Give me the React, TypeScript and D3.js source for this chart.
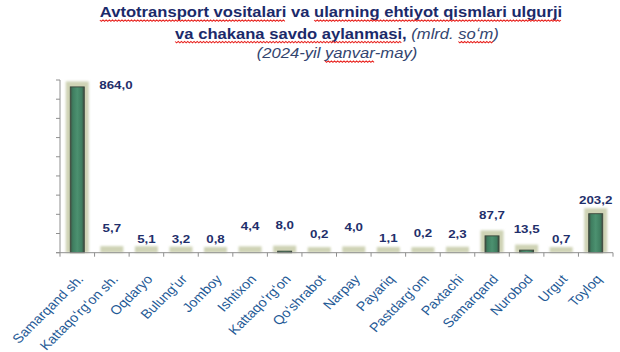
import React, { useEffect, useRef } from 'react';
import * as d3 from 'd3';

const categories = [
  'Samarqand sh.',
  'Kattaqoʻrgʻon sh.',
  'Oqdaryo',
  'Bulungʻur',
  'Jomboy',
  'Ishtixon',
  'Kattaqoʻrgʻon',
  'Qoʻshrabot',
  'Narpay',
  'Payariq',
  'Pastdargʻom',
  'Paxtachi',
  'Samarqand',
  'Nurobod',
  'Urgut',
  'Toyloq',
];
const values = [864.0, 5.7, 5.1, 3.2, 0.8, 4.4, 8.0, 0.2, 4.0, 1.1, 0.2, 2.3, 87.7, 13.5, 0.7, 203.2];
const yTicks = [0, 100, 200, 300, 400, 500, 600, 700, 800, 900];
// hand placed value labels in the original: lift above bar top, px
const labelLift = [-2.5, 20, 9, 9.5, 10, 21.5, 22.5, 15, 20.5, 10, 16, 14, 16.5, 17.5, 10, 10];

const FONT = "'Liberation Sans', Arial, sans-serif";
const W = 620;
const H = 352;
const margin = { top: 80, right: 7, bottom: 99.3, left: 60 };
// the source picture is a little wider than tall, text included
const SX = 1.13;

const fmt = (v: number) => v.toFixed(1).replace('.', ',');

const App = () => {
  const ref = useRef<SVGSVGElement>(null);

  useEffect(() => {
    if (!ref.current) return;
    const svg = d3.select(ref.current);
    svg.selectAll('*').remove();

    const x = d3
      .scaleBand<string>()
      .domain(categories)
      .range([margin.left, W - margin.right]);
    const y = d3
      .scaleLinear()
      .domain([0, 900])
      .range([H - margin.bottom, margin.top]);
    const base = y(0);

    const defs = svg.append('defs');
    const grad = defs
      .append('linearGradient')
      .attr('id', 'barFill')
      .attr('x1', 0)
      .attr('x2', 1)
      .attr('y1', 0)
      .attr('y2', 0);
    grad.append('stop').attr('offset', '0%').attr('stop-color', '#3e4f42');
    grad.append('stop').attr('offset', '18%').attr('stop-color', '#3f7e60');
    grad.append('stop').attr('offset', '50%').attr('stop-color', '#4c9170');
    grad.append('stop').attr('offset', '82%').attr('stop-color', '#3f7e60');
    grad.append('stop').attr('offset', '100%').attr('stop-color', '#3c4a3e');
    defs
      .append('filter')
      .attr('id', 'soft')
      .attr('x', '-30%')
      .attr('y', '-30%')
      .attr('width', '160%')
      .attr('height', '160%')
      .append('feGaussianBlur')
      .attr('stdDeviation', 0.9);

    // title
    const title = svg.append('g').attr('font-family', FONT);
    const line = (cx: number, yy: number, parts: Array<[string, boolean, boolean, boolean]>) => {
      const g = title.append('g').attr('transform', `translate(${cx},${yy}) scale(${SX},1)`);
      const t = g.append('text').attr('text-anchor', 'middle').attr('font-size', 14.7);
      parts.forEach(([s, bold, italic, wavy]) => {
        t.append('tspan')
          .text(s)
          .attr('font-weight', bold ? 'bold' : 'normal')
          .attr('font-style', italic ? 'italic' : 'normal')
          .attr('fill', bold ? '#1b2a6a' : '#33456f')
          .classed('wavy', wavy);
      });
      t.selectAll<SVGTSpanElement, unknown>('tspan.wavy').each(function () {
        const x0 = this.getStartPositionOfChar(0).x;
        const len = this.getComputedTextLength();
        const pts: Array<[number, number]> = [];
        for (let px = x0, k = 0; px <= x0 + len; px += 1.4, k++) {
          pts.push([px, 3 + (k % 2 === 0 ? 0 : 1.4)]);
        }
        g.append('path')
          .attr('d', d3.line()(pts))
          .attr('fill', 'none')
          .attr('stroke', '#e8231f')
          .attr('stroke-width', 0.9);
      });
    };
    line(331, 17, [
      ['Avtotransport vositalari', true, false, true],
      [' va ', true, false, false],
      ['ularning ehtiyot qismlari ulgurji', true, false, true],
    ]);
    line(337, 38.5, [
      ['va chakana savdo aylanmasi', true, false, true],
      [', ', true, false, false],
      ['(mlrd. ', false, true, false],
      ['soʻm', false, true, true],
      [')', false, true, false],
    ]);
    line(337, 58, [
      ['(2024-yil ', false, true, false],
      ['yanvar', false, true, true],
      ['-may)', false, true, false],
    ]);

    // axes
    const axisColor = '#8f8f8f';
    const gy = svg.append('g').attr('stroke', axisColor).attr('stroke-width', 1);
    gy.append('line')
      .attr('x1', margin.left)
      .attr('x2', margin.left)
      .attr('y1', y(900))
      .attr('y2', base);
    gy.selectAll('line.tick')
      .data(yTicks)
      .join('line')
      .attr('class', 'tick')
      .attr('x1', margin.left - 4)
      .attr('x2', margin.left)
      .attr('y1', (d) => y(d))
      .attr('y2', (d) => y(d));

    // bars
    const bw = x.bandwidth();
    const bars = svg.append('g');
    categories.forEach((c, i) => {
      const cx = (x(c) || 0) + bw / 2;
      const top = y(values[i]);
      bars
        .append('rect')
        .attr('x', cx - 11.5)
        .attr('y', top - 5.5)
        .attr('width', 23)
        .attr('height', base - top + 5.5)
        .attr('fill', '#cfd3b5')
        .attr('filter', 'url(#soft)');
      if (base - top >= 1.4) {
        bars
          .append('rect')
          .attr('x', cx - 7)
          .attr('y', top)
          .attr('width', 14)
          .attr('height', base - top)
          .attr('fill', 'url(#barFill)')
          .attr('stroke', '#3b463b')
          .attr('stroke-width', 0.9);
      }
    });

    const gx = svg.append('g').attr('stroke', axisColor).attr('stroke-width', 1);
    gx.append('line')
      .attr('x1', margin.left - 4)
      .attr('x2', W - margin.right)
      .attr('y1', base)
      .attr('y2', base);
    gx.selectAll('line.tick')
      .data(d3.range(categories.length + 1))
      .join('line')
      .attr('class', 'tick')
      .attr('x1', (i) => margin.left + i * bw)
      .attr('x2', (i) => margin.left + i * bw)
      .attr('y1', base)
      .attr('y2', base + 4);

    // value labels
    svg
      .append('g')
      .attr('font-family', FONT)
      .attr('font-weight', 'bold')
      .attr('font-size', 11.8)
      .attr('fill', '#1f2f6b')
      .selectAll('text')
      .data(values)
      .join('text')
      .attr(
        'transform',
        (d, i) =>
          `translate(${(x(categories[i]) || 0) + bw / 2 + (i === 0 ? 22 : 0)},${y(d) - labelLift[i]}) scale(${SX},1)`,
      )
      .attr('text-anchor', (d, i) => (i === 0 ? 'start' : 'middle'))
      .text((d) => fmt(d));

    // category labels
    svg
      .append('g')
      .attr('font-family', FONT)
      .attr('font-size', 12.8)
      .attr('fill', '#1f5a96')
      .attr('text-anchor', 'end')
      .selectAll('text')
      .data(categories)
      .join('text')
      .attr(
        'transform',
        (c) => `translate(${(x(c) || 0) + bw / 2 + 7},${base + 27}) scale(${SX},1) rotate(-48)`,
      )
      .text((c) => c);
  }, []);

  return (
    <svg
      ref={ref}
      width={W}
      height={H}
      style={{ position: 'absolute', left: 0, top: 0, background: '#fff' }}
    />
  );
};

export default App;
